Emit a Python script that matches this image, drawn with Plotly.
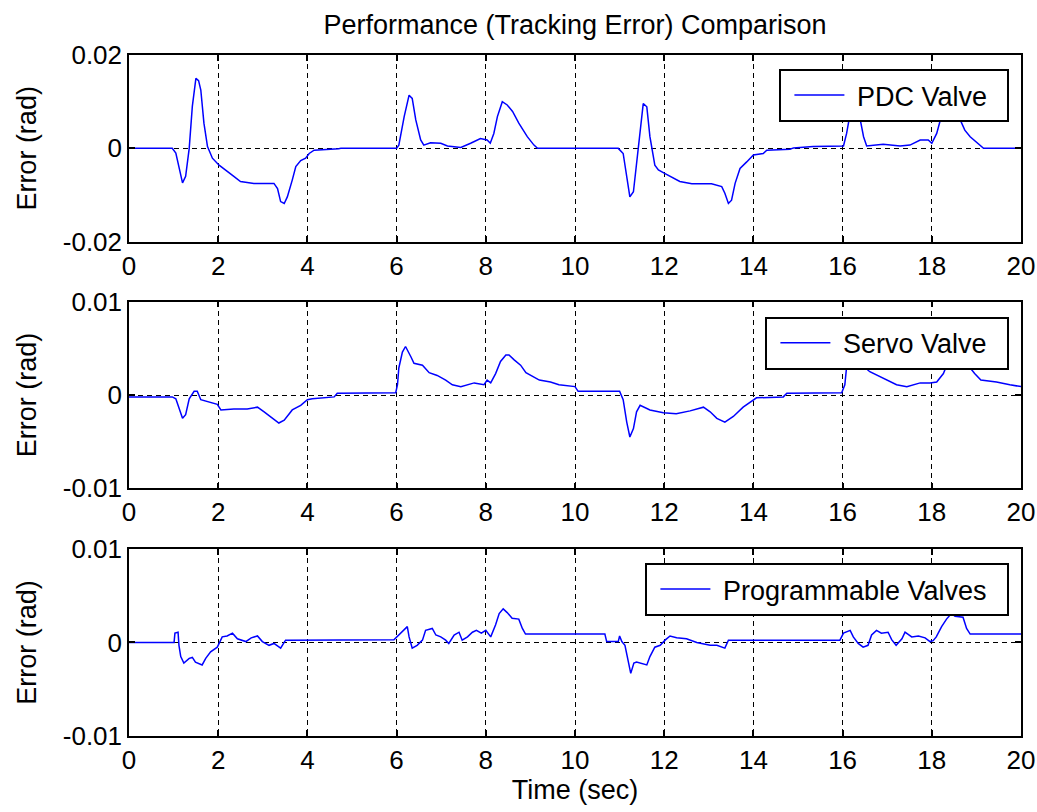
import plotly.graph_objects as go

# ---------------- data ----------------
x_ticks = [0, 2, 4, 6, 8, 10, 12, 14, 16, 18, 20]

pdc_t = [0, 0.97, 1.05, 1.2, 1.27, 1.35, 1.42, 1.5, 1.56, 1.61, 1.68, 1.76, 1.87, 2.02, 2.35, 2.5,
         2.8, 3.25, 3.33, 3.4, 3.48, 3.55, 3.66, 3.74, 3.85, 3.96, 4.04, 4.15, 4.7, 4.75, 6.0,
         6.05, 6.17, 6.28, 6.35, 6.43, 6.54, 6.61, 6.76, 6.99, 7.14, 7.44, 7.66, 7.88, 8.03, 8.1,
         8.18, 8.26, 8.37, 8.48, 8.6, 8.74, 8.93, 9.08, 9.16, 10.97, 11.08, 11.23, 11.31, 11.42,
         11.46, 11.53, 11.61, 11.68, 11.79, 11.87, 12.02, 12.35, 12.62, 13.06, 13.29, 13.36, 13.44,
         13.51, 13.59, 13.7, 13.85, 13.96, 14.0, 14.22, 14.3, 14.82, 14.9, 15.34, 15.87, 16.02,
         16.09, 16.17, 16.27, 16.33, 16.39, 16.47, 16.54, 16.91, 17.29, 17.51, 17.74, 17.92, 18.0,
         18.11, 18.22, 18.4, 18.59, 18.74, 18.86, 19.0, 19.16, 20.0]
pdc_err = [0, 0, -0.001, -0.0074, -0.006, 0, 0.009, 0.015, 0.0145, 0.0125, 0.0054, 0.0004, -0.0021,
           -0.0036, -0.006, -0.0071, -0.0075, -0.0075, -0.0086, -0.0114, -0.0118, -0.0104, -0.0068,
           -0.0039, -0.0026, -0.0021, -0.0011, -0.0004, -0.0001, 0, 0, 0.0007, 0.0068, 0.0114,
           0.0107, 0.0061, 0.0018, 0.0007, 0.0012, 0.0011, 0.0005, 0.0002, 0.0011, 0.0021, 0.0018,
           0.0011, 0.0032, 0.0068, 0.01, 0.0093, 0.0079, 0.0054, 0.0025, 0.0007, 0, 0, -0.0011,
           -0.0104, -0.0093, 0, 0.0046, 0.0096, 0.0089, 0.0025, -0.0036, -0.0046, -0.0054, -0.0071,
           -0.0076, -0.0076, -0.0082, -0.0096, -0.0118, -0.0111, -0.0075, -0.0043, -0.0029, -0.0018,
           -0.0014, -0.0011, -0.0004, -0.0002, 0.0001, 0.0004, 0.0005, 0.0005, 0.0032, 0.0075,
           0.0112, 0.0105, 0.0064, 0.0025, 0.0005, 0.0009, 0.0005, 0.0007, 0.0018, 0.0018, 0.0011,
           0.0032, 0.0071, 0.0098, 0.0071, 0.0039, 0.0025, 0.0014, 0, 0]

servo_t = [0, 0.97, 1.05, 1.12, 1.2, 1.27, 1.35, 1.46, 1.53, 1.61, 1.83, 1.98, 2.06, 2.35, 2.65,
           2.88, 3.03, 3.21, 3.36, 3.48, 3.66, 3.85, 4.0, 4.11, 4.6, 4.67, 5.98, 6.02, 6.05, 6.13,
           6.2, 6.32, 6.39, 6.58, 6.73, 6.91, 7.1, 7.25, 7.44, 7.74, 7.96, 8.03, 8.11, 8.22, 8.33,
           8.45, 8.52, 8.63, 8.78, 8.9, 9.2, 9.45, 9.64, 10.0, 10.07, 11.0, 11.08, 11.16, 11.23,
           11.31, 11.38, 11.46, 11.68, 11.98, 12.27, 12.58, 12.88, 13.03, 13.18, 13.36, 13.55,
           13.77, 13.96, 14.07, 14.67, 14.75, 15.98, 16.05, 16.1, 16.2, 16.3, 16.39, 16.61, 16.91,
           17.21, 17.44, 17.74, 17.96, 18.11, 18.26, 18.37, 18.5, 18.65, 18.78, 18.96, 19.1, 19.45,
           19.75, 20.0]
servo_err = [-0.0002, -0.0002, -0.0004, -0.0014, -0.0025, -0.0021, -0.0004, 0.0004, 0.0004,
             -0.0005, -0.0008, -0.001, -0.0016, -0.0015, -0.0015, -0.0013, -0.0018, -0.0025, -0.003,
             -0.0027, -0.0016, -0.0011, -0.0005, -0.0004, -0.0002, 0.0002, 0.00025, 0.0011, 0.0029,
             0.0046, 0.0052, 0.0041, 0.0034, 0.0032, 0.0024, 0.0021, 0.0016, 0.0011, 0.0009, 0.0013,
             0.0011, 0.0016, 0.0013, 0.0023, 0.0036, 0.0043, 0.0043, 0.0038, 0.0032, 0.0024, 0.0016,
             0.0014, 0.0011, 0.0009, 0.0004, 0.0004, -0.0005, -0.0029, -0.0045, -0.0036, -0.0018,
             -0.0011, -0.0016, -0.0019, -0.002, -0.0017, -0.0013, -0.0018, -0.0025, -0.0029,
             -0.0023, -0.0013, -0.0007, -0.0003, -0.0002, 0.0002, 0.00025, 0.0011, 0.0035, 0.005,
             0.0042, 0.0034, 0.0025, 0.0018, 0.0011, 0.0009, 0.0013, 0.0013, 0.0014, 0.0023, 0.0036,
             0.0043, 0.004, 0.0034, 0.0023, 0.0016, 0.0014, 0.0011, 0.0009]

prog_t = [0, 1.01, 1.03, 1.1, 1.12, 1.16, 1.23, 1.35, 1.42, 1.49, 1.64, 1.72, 1.83, 1.98, 2.09,
          2.2, 2.32, 2.43, 2.62, 2.74, 2.88, 2.99, 3.14, 3.25, 3.4, 3.51, 5.94, 6.05, 6.17, 6.24,
          6.28, 6.35, 6.46, 6.58, 6.65, 6.8, 6.88, 6.99, 7.1, 7.17, 7.29, 7.4, 7.47, 7.59, 7.7,
          7.79, 7.9, 8.0, 8.11, 8.22, 8.3, 8.39, 8.48, 8.59, 8.74, 8.82, 8.89, 10.67, 10.71, 10.97,
          11.0, 11.05, 11.12, 11.2, 11.25, 11.32, 11.38, 11.61, 11.68, 11.79, 11.91, 12.02, 12.13,
          12.28, 12.5, 12.73, 13.03, 13.18, 13.36, 13.44, 15.94, 16.02, 16.17, 16.24, 16.35, 16.46,
          16.57, 16.65, 16.76, 16.87, 17.02, 17.1, 17.2, 17.33, 17.4, 17.55, 17.7, 17.85, 17.96,
          18.03, 18.1, 18.22, 18.33, 18.44, 18.52, 18.7, 18.78, 18.86, 20.0]
prog_err = [0, 0, 0.001, 0.0011, -0.0003, -0.0015, -0.0022, -0.0017, -0.0016, -0.0021, -0.0024,
            -0.0017, -0.001, -0.0005, 0.0006, 0.0007, 0.001, 0.0004, 0.0001, 0.0005, 0.0007,
            0.0001, -0.0003, -0.0001, -0.0006, 0.00025, 0.0003, 0.0008, 0.0013, 0.0017, 0.0006,
            -0.0006, -0.0003, 0.00025, 0.0013, 0.0015, 0.0008, 0.0006, 0.00025, -0.0001, 0.0008,
            0.0011, 0.00025, 0.0006, 0.0011, 0.0013, 0.001, 0.0013, 0.0006, 0.0019, 0.0031, 0.0036,
            0.0032, 0.0026, 0.0025, 0.0015, 0.0009, 0.0009, 0.0001, 0.0001, 0.0007, 0.0001, -0.0003,
            -0.0021, -0.0033, -0.0022, -0.0021, -0.0024, -0.0015, -0.0005, -0.0003, 0.00025, 0.0007,
            0.0005, 0.0004, 0.0, -0.0003, -0.0003, -0.0006, 0.00025, 0.00025, 0.001, 0.0013, 0.0006,
            -0.0001, -0.0005, -0.0003, 0.0008, 0.0013, 0.001, 0.0011, 0.0003, -0.0003, 0.0004,
            0.0011, 0.0006, 0.0007, 0.0005, 0.0001, 0.0002, 0.0006, 0.0017, 0.0025, 0.0031, 0.0028,
            0.0027, 0.0015, 0.0009, 0.0009]

series_names = ["PDC Valve", "Servo Valve", "Programmable Valves"]
y_ranges = [[-0.02, 0.02], [-0.01, 0.01], [-0.01, 0.01]]
y_tickvals = [[-0.02, 0, 0.02], [-0.01, 0, 0.01], [-0.01, 0, 0.01]]
y_ticktext = [["-0.02", "0", "0.02"], ["-0.01", "0", "0.01"], ["-0.01", "0", "0.01"]]

# ---------------- figure ----------------
FONT = "Arial, Liberation Sans, sans-serif"
FS_TICK = 26
FS_TEXT = 27
BLUE = "#0000ff"
NB = "\u00a0"

fig = go.Figure()
series = [(pdc_t, pdc_err), (servo_t, servo_err), (prog_t, prog_err)]
for i, (t, e) in enumerate(series):
    ax = "" if i == 0 else str(i + 1)
    fig.add_trace(go.Scatter(
        x=t, y=e, mode="lines", name=NB + series_names[i] + NB + NB,
        line=dict(color=BLUE, width=1.5),
        xaxis="x" + ax, yaxis="y" + ax,
        legend="legend" + ax, showlegend=True,
    ))

domains = [[0.7258, 1.0], [0.3637, 0.6377], [0.0, 0.2746]]
legend_y = [0.9794, 0.6157, 0.254]

common_axis = dict(
    showline=True, linecolor="black", linewidth=1.5, mirror="ticks",
    ticks="inside", ticklen=6, tickwidth=1.5, tickcolor="black",
    showgrid=True, gridcolor="black", gridwidth=1, griddash="5px,4px",
    zeroline=False, automargin=False,
    tickfont=dict(family=FONT, size=FS_TICK, color="black"),
)

layout = dict(
    width=1037, height=812,
    margin=dict(l=129, r=16, t=55, b=76, autoexpand=False),
    paper_bgcolor="white", plot_bgcolor="white",
    font=dict(family=FONT, size=FS_TEXT, color="black"),
    title=dict(text="Performance (Tracking Error) Comparison", x=0.5, xref="paper",
               y=1 - 25 / 812, yref="container", yanchor="middle", xanchor="center",
               font=dict(family=FONT, size=FS_TEXT, color="black")),
)

for i in range(3):
    ax = "" if i == 0 else str(i + 1)
    xa = dict(common_axis)
    xa.update(domain=[0, 1], range=[0, 20], tickvals=x_ticks,
              ticktext=[str(v) for v in x_ticks], anchor="y" + ax)
    if i == 2:
        xa.update(title=dict(text="Time (sec)", standoff=4,
                             font=dict(family=FONT, size=FS_TEXT, color="black")))
    ya = dict(common_axis)
    ya.update(domain=domains[i], range=y_ranges[i], tickvals=y_tickvals[i],
              ticktext=y_ticktext[i], anchor="x" + ax,
              title=dict(text="Error (rad)", standoff=18,
                         font=dict(family=FONT, size=FS_TEXT, color="black")))
    layout["xaxis" + ax] = xa
    layout["yaxis" + ax] = ya
    layout["legend" + ax] = dict(
        x=0.987, xanchor="right", y=legend_y[i], yanchor="top",
        xref="paper", yref="paper",
        bgcolor="white", bordercolor="black", borderwidth=2,
        font=dict(family=FONT, size=FS_TEXT, color="black"),
        itemwidth=50, indentation=8,
    )

fig.update_layout(**layout)
fig.write_html("out.html")
